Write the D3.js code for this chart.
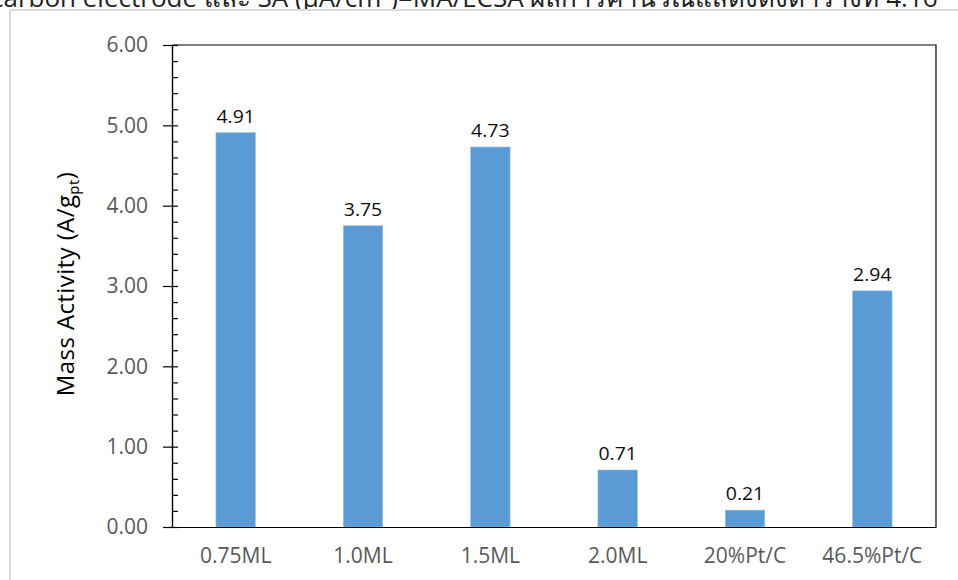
<!DOCTYPE html>
<html><head><meta charset="utf-8">
<script src="https://cdn.jsdelivr.net/npm/d3@7"></script>
<style>body{margin:0;background:#fff}svg{display:block}</style>
</head><body>
<script>
const categories = ["0.75ML","1.0ML","1.5ML","2.0ML","20%Pt/C","46.5%Pt/C"];
const massActivity = [4.91,3.75,4.73,0.71,0.21,2.94];
const yTickValues = [0,1,2,3,4,5,6];
const headerText = "carbon electrode และ SA (μA/cm²)=MA/ECSA ผลการคำนวณแสดงดังตารางที่ 4.16";

(function(){
const W = 958, H = 580;
const svg = d3.select("body").append("svg").attr("width", W).attr("height", H);
const font = "'Open Sans', 'Noto Sans', sans-serif";

// clipped header text from page above
svg.append("clipPath").attr("id","hc").append("rect").attr("x",0).attr("y",0).attr("width",W).attr("height",9);
svg.append("text").attr("clip-path","url(#hc)").attr("x",-9).attr("y",7)
  .attr("font-family", font).attr("font-size",26).attr("fill","#222").text(headerText);

// outer light frame
svg.append("line").attr("x1",9).attr("x2",W).attr("y1",10).attr("y2",10).attr("stroke","#d9d9d9").attr("stroke-width",2);
svg.append("line").attr("x1",10).attr("x2",10).attr("y1",10).attr("y2",H).attr("stroke","#d9d9d9").attr("stroke-width",2);

const pL = 172, pR = 936, pT = 45, pB = 527;
const x = d3.scaleBand().domain(categories).range([pL, pR]).paddingInner(0.69).paddingOuter(0.345);
const y = d3.scaleLinear().domain([0, 6]).range([pB, pT]);

// bars
svg.append("g").selectAll("rect").data(categories).join("rect")
  .attr("x", d => x(d)).attr("width", x.bandwidth())
  .attr("y", (d,i) => y(massActivity[i])).attr("height", (d,i) => y(0) - y(massActivity[i]))
  .attr("fill", "#5b9bd5").attr("stroke","#9cc3e6").attr("stroke-width",0.6);

// data labels
svg.append("g").selectAll("text").data(categories).join("text")
  .attr("transform", (d,i) => `translate(${x(d) + x.bandwidth()/2},${y(massActivity[i]) - 10}) scale(1.08,1)`)
  .attr("text-anchor","middle").attr("font-family", font).attr("font-size",18)
  .attr("fill","#0d0d0d").text((d,i) => massActivity[i].toFixed(2));

// plot border top/right
svg.append("path").attr("d", `M${pL},${pT}H${pR}V${pB}`).attr("fill","none").attr("stroke","#000").attr("stroke-width",1.2);

// y axis majors (outside)
const yAxis = svg.append("g").attr("transform", `translate(${pL},0)`)
  .call(d3.axisLeft(y).tickValues(yTickValues).tickFormat(d3.format(".2f")).tickSizeInner(9).tickSizeOuter(0).tickPadding(15));
yAxis.selectAll("text").attr("font-family", font).attr("font-size",21).attr("fill","#595959");
yAxis.selectAll("line,path").attr("stroke","#000").attr("stroke-width",1.2);

// y axis minor (inside)
const minor = d3.range(0, 6.0001, 0.2);
const yMinor = svg.append("g").attr("transform", `translate(${pL},0)`)
  .call(d3.axisRight(y).tickValues(minor).tickFormat("").tickSizeInner(6).tickSizeOuter(0));
yMinor.selectAll("line,path").attr("stroke","#000").attr("stroke-width",1.2);

// x axis
const xAxis = svg.append("g").attr("transform", `translate(0,${pB})`)
  .call(d3.axisBottom(x).tickSize(0).tickPadding(21));
xAxis.selectAll("text").attr("font-family", font).attr("font-size",21).attr("fill","#595959");
xAxis.select("path").attr("stroke","#000").attr("stroke-width",1.2);

// y title
const t = svg.append("text").attr("transform", `translate(74,${(pT+pB)/2 - 2}) rotate(-90)`)
  .attr("text-anchor","middle").attr("font-family", font).attr("font-size",24)
  .attr("letter-spacing",0.4).attr("fill","#000");
t.append("tspan").text("Mass Activity (A/g");
t.append("tspan").attr("font-size",15).attr("dy",5).text("pt");
t.append("tspan").attr("dy",-5).text(")");
})();
</script>
</body></html>
